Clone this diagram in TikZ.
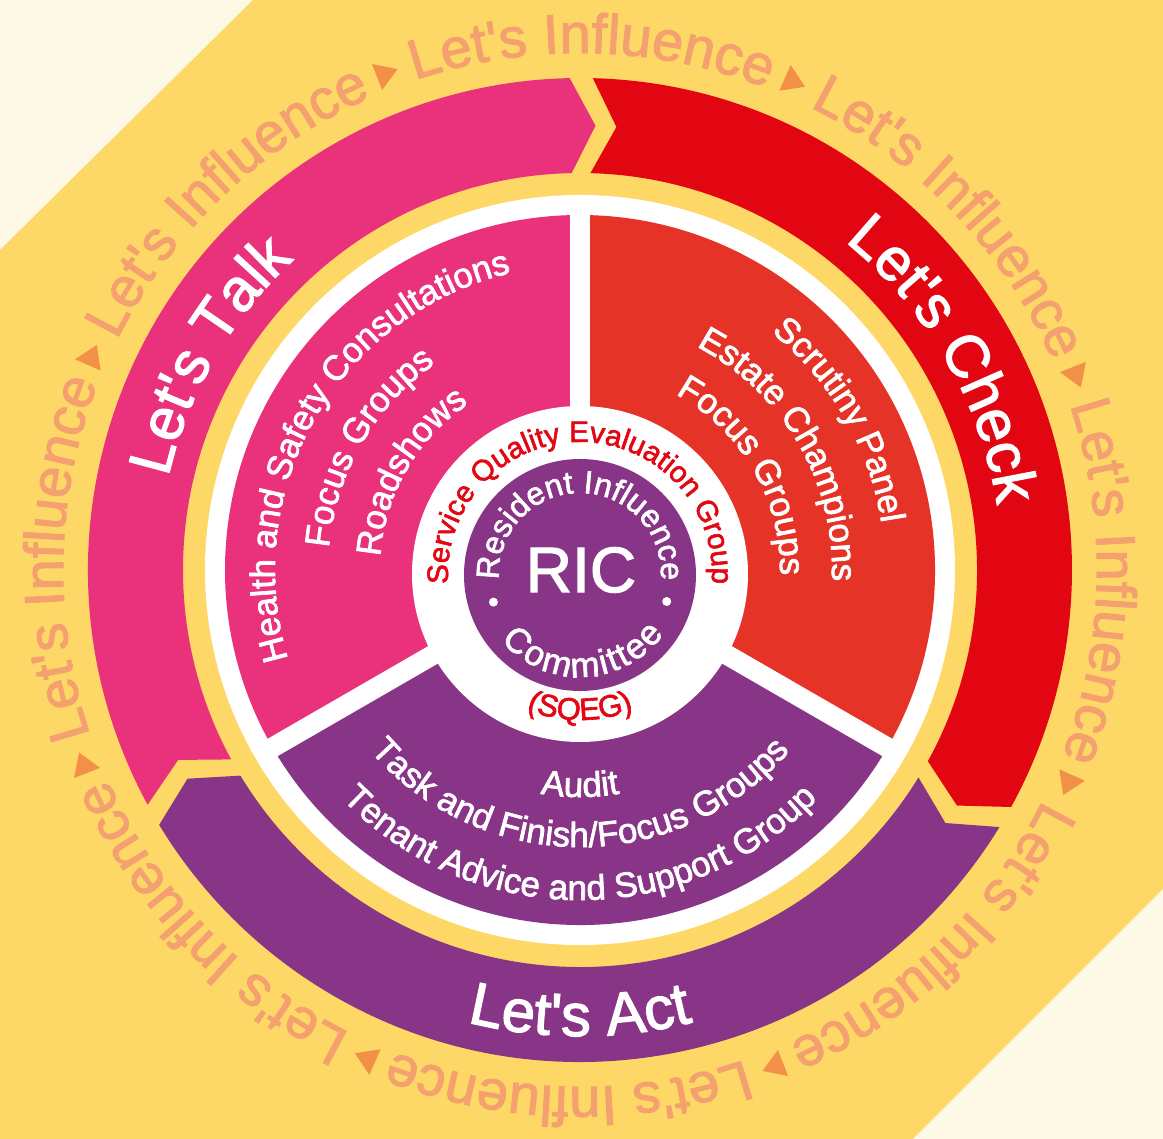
\documentclass[tikz,border=0pt]{standalone}
\usepackage{fontspec}
\newfontfamily\lib{Liberation Sans}[FakeBold=2]
\usetikzlibrary{decorations.text}
\definecolor{cream}{HTML}{FEF8E7}
\definecolor{ylw}{HTML}{FED866}
\definecolor{pinkc}{HTML}{E9327B}
\definecolor{redc}{HTML}{E20613}
\definecolor{redin}{HTML}{E53327}
\definecolor{purp}{HTML}{883588}
\definecolor{infl}{HTML}{F4A16F}
\definecolor{tri}{HTML}{F39048}
\definecolor{sqeg}{HTML}{E30613}
% clockwise text: center angle, radius, half span, format, text
\newcommand\cwtext[5]{\path[decorate,decoration={text along path,text align=center,text={|#4|#5}}] ({#1+#3}:#2) arc[start angle={#1+#3},end angle={#1-#3},radius=#2];}
% counter-clockwise text
\newcommand\ccwtext[5]{\path[decorate,decoration={text along path,text align=center,text={|#4|#5}}] ({#1-#3}:#2) arc[start angle={#1-#3},end angle={#1+#3},radius=#2];}
\newcommand\bigf{\lib\fontsize{60}{64}\selectfont\color{white}}
\newcommand\secf{\lib\fontsize{35}{40}\selectfont\color{white}}
\newcommand\inff{\lib\fontsize{56}{60}\selectfont\color{infl}}
\begin{document}
\begin{tikzpicture}[x=1pt,y=1pt]
\useasboundingbox (-580,-569) rectangle (583,570);
\fill[cream] (-580,-569) rectangle (583,570);
\fill[ylw] (-580,320) -- (-327,570) -- (583,570) -- (583,-319) -- (333,-569) -- (-580,-569) -- cycle;
% outer arrows
\foreach \T/\H/\c in {208.5/91.2/pinkc, 88.5/-28.8/redc, -31.5/-148.8/purp} {
  \fill[\c] (\T:492) arc[start angle=\T, end angle=\H, radius=492] -- ({\H-3.2}:444.5) -- (\H:397)
    arc[start angle=\H, end angle=\T, radius=397] -- ({\T-3.2}:444.5) -- cycle;
}
% outer text ring
\foreach \k in {0,...,7} {
  \pgfmathsetmacro\infc{43.7+45*\k}
  \cwtext{\infc}{517}{22}{\inff}{Let's Influence}
  \pgfmathsetmacro\tra{21.2+45*\k}
  \fill[tri, rotate=\tra] (519,11) -- (547,11) -- (533,-11) -- cycle;
}
% arrow labels
\cwtext{150}{422}{40}{\bigf}{Let's Talk}
\cwtext{30}{422}{40}{\bigf}{Let's Check}
\ccwtext{270}{466}{40}{\bigf}{Let's Act}
% inner sectors
\fill[white] (0,0) circle[radius=375];
\fill[redin] (0,0) -- (-30:355) arc[start angle=-30, end angle=90, radius=355] -- cycle;
\fill[pinkc] (0,0) -- (90:355) arc[start angle=90, end angle=210, radius=355] -- cycle;
\fill[purp] (0,0) -- (210:355) arc[start angle=210, end angle=330, radius=355] -- cycle;
\foreach \a in {90,210,330} \draw[white, line width=20pt] (0,0) -- (\a:365);
% sector texts
\cwtext{150}{305}{60}{\secf}{Health and Safety Consultations}
\cwtext{150}{252}{60}{\secf}{Focus Groups}
\cwtext{150}{200}{60}{\secf}{Roadshows}
\cwtext{30}{305}{60}{\secf}{Scrutiny Panel}
\cwtext{30}{252}{60}{\secf}{Estate Champions}
\cwtext{30}{200}{60}{\secf}{Focus Groups}
\ccwtext{270}{330}{60}{\secf}{Tenant Advice and Support Group}
\ccwtext{270}{277}{60}{\secf}{Task and Finish/Focus Groups}
\ccwtext{270}{227}{60}{\secf}{Audit}
% centre
\begin{scope}[shift={(0,-4)}]
  \fill[white] (0,0) circle[radius=168];
  \fill[purp] (0,-1) circle[radius=116];
  \cwtext{90}{132}{110}{\lib\fontsize{29.5}{33}\selectfont\color{sqeg}}{Service Quality Evaluation Group}
  \ccwtext{270}{146}{60}{\lib\fontsize{31}{35}\selectfont\color{sqeg}}{(SQEG)}
  \path[decorate,decoration={text along path,text align=fit to path,text={|\lib\fontsize{32}{36}\selectfont\color{white}|Resident Influence}}] (184:81) arc[start angle=184, end angle=-4.5, radius=81];
  \path[decorate,decoration={text along path,text align=fit to path,text={|\lib\fontsize{35}{40}\selectfont\color{white}|Committee}}] (220:103) arc[start angle=220, end angle=324.5, radius=103];
  \fill[white] (198:91) circle[radius=4.5];
  \fill[white] (-17.6:91) circle[radius=4.5];
  \node[white, font=\lib\fontsize{64}{64}\selectfont, inner sep=0pt] (ric) at (1,4) {RIC};
\end{scope}
\end{tikzpicture}
\end{document}
